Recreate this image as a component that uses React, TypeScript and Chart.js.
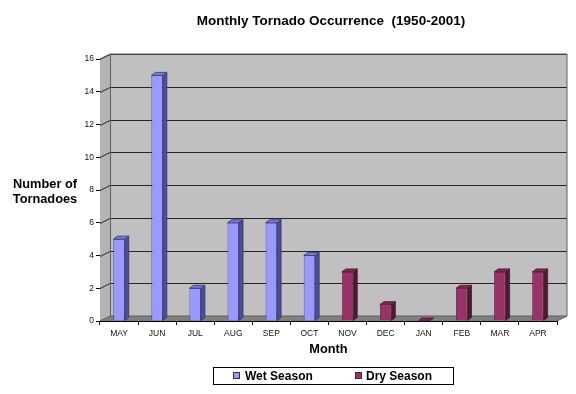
import React, { useEffect, useRef } from "react";
import { Chart, registerables } from "chart.js";

Chart.register(...registerables);

const months = ["MAY", "JUN", "JUL", "AUG", "SEP", "OCT", "NOV", "DEC", "JAN", "FEB", "MAR", "APR"];
const wetSeason = [5, 15, 2, 6, 6, 4, null, null, null, null, null, null];
const drySeason = [null, null, null, null, null, null, 3, 1, 0, 2, 3, 3];
const yTicks = [0, 2, 4, 6, 8, 10, 12, 14, 16];

const FONT = "'Liberation Sans', Arial, Helvetica, sans-serif";
const WALL_DX = 10;
const WALL_DY = -5;
const BAR_DX = 4;
const BAR_DY = -3;

const wetColors = { front: "#9999ff", side: "#4d4d99", top: "#7a7acc", border: "#33337a" };
const dryColors = { front: "#993366", side: "#4d1933", top: "#7a2952", border: "#4d1933" };

const threeD = {
  id: "threeD",
  beforeDatasetsDraw(chart: any) {
    const { ctx, chartArea, scales } = chart;
    const y = scales.y;
    const left = chartArea.left;
    const right = chartArea.right;
    const bottom = y.getPixelForValue(0);
    const top = y.getPixelForValue(16);
    ctx.save();
    ctx.fillStyle = "#c0c0c0";
    ctx.fillRect(left + WALL_DX, top + WALL_DY, right - left, bottom - top);
    ctx.fillStyle = "#b4b4b4";
    ctx.beginPath();
    ctx.moveTo(left, top);
    ctx.lineTo(left + WALL_DX, top + WALL_DY);
    ctx.lineTo(left + WALL_DX, bottom + WALL_DY);
    ctx.lineTo(left, bottom);
    ctx.closePath();
    ctx.fill();
    ctx.fillStyle = "#808080";
    ctx.beginPath();
    ctx.moveTo(left, bottom);
    ctx.lineTo(right, bottom);
    ctx.lineTo(right + WALL_DX, bottom + WALL_DY);
    ctx.lineTo(left + WALL_DX, bottom + WALL_DY);
    ctx.closePath();
    ctx.fill();
    ctx.strokeStyle = "#262626";
    ctx.lineWidth = 1;
    for (const v of yTicks) {
      if (v === 0) continue;
      const py = Math.round(y.getPixelForValue(v)) + 0.5;
      ctx.beginPath();
      ctx.moveTo(left, py);
      ctx.lineTo(left + WALL_DX, py + WALL_DY);
      ctx.lineTo(right + WALL_DX, py + WALL_DY);
      ctx.stroke();
    }
    ctx.strokeStyle = "#606060";
    ctx.beginPath();
    ctx.moveTo(left, top);
    ctx.lineTo(left + WALL_DX, top + WALL_DY);
    ctx.lineTo(right + WALL_DX, top + WALL_DY);
    ctx.lineTo(right + WALL_DX, bottom + WALL_DY);
    ctx.lineTo(right, bottom);
    ctx.moveTo(left + WALL_DX + 0.5, top + WALL_DY);
    ctx.lineTo(left + WALL_DX + 0.5, bottom + WALL_DY);
    ctx.lineTo(right + WALL_DX, bottom + WALL_DY);
    ctx.moveTo(left, bottom);
    ctx.lineTo(left + WALL_DX, bottom + WALL_DY);
    ctx.stroke();
    ctx.restore();
  },
  afterDatasetsDraw(chart: any) {
    const { ctx } = chart;
    ctx.save();
    chart.data.datasets.forEach((ds: any, di: number) => {
      const meta = chart.getDatasetMeta(di);
      const c = di === 0 ? wetColors : dryColors;
      meta.data.forEach((el: any, i: number) => {
        const v = ds.data[i];
        if (v === null || v === undefined) return;
        const { x, y, base, width } = el.getProps(["x", "y", "base", "width"], true);
        const l = x - width / 2;
        const r = x + width / 2;
        ctx.lineWidth = 0.8;
        ctx.strokeStyle = c.border;
        ctx.fillStyle = c.side;
        ctx.beginPath();
        ctx.moveTo(r, y);
        ctx.lineTo(r + BAR_DX, y + BAR_DY);
        ctx.lineTo(r + BAR_DX, base + BAR_DY);
        ctx.lineTo(r, base);
        ctx.closePath();
        ctx.fill();
        ctx.stroke();
        ctx.fillStyle = c.top;
        ctx.beginPath();
        ctx.moveTo(l, y);
        ctx.lineTo(l + BAR_DX, y + BAR_DY);
        ctx.lineTo(r + BAR_DX, y + BAR_DY);
        ctx.lineTo(r, y);
        ctx.closePath();
        ctx.fill();
        ctx.stroke();
      });
    });
    ctx.restore();
  },
  afterDraw(chart: any) {
    const { ctx, chartArea } = chart;
    ctx.save();
    ctx.fillStyle = "#000";
    ctx.textBaseline = "middle";
    ctx.textAlign = "center";
    ctx.font = `bold 13.5px ${FONT}`;
    ctx.fillText("Monthly Tornado Occurrence  (1950-2001)", 331, 21);
    ctx.font = `bold 12.8px ${FONT}`;
    ctx.fillText("Number of", 45, 184);
    ctx.fillText("Tornadoes", 45, 199);
    ctx.fillText("Month", (chartArea.left + chartArea.right) / 2, 349);
    ctx.font = `bold 12px ${FONT}`;
    ctx.strokeStyle = "#000";
    ctx.lineWidth = 1;
    ctx.strokeRect(213.5, 367.5, 240, 17);
    ctx.textAlign = "left";
    ctx.fillStyle = wetColors.front;
    ctx.fillRect(233, 372, 7, 7);
    ctx.strokeStyle = "#333";
    ctx.strokeRect(233.5, 372.5, 6, 6);
    ctx.fillStyle = "#000";
    ctx.fillText("Wet Season", 245, 376.5);
    ctx.fillStyle = dryColors.front;
    ctx.fillRect(355, 372, 7, 7);
    ctx.strokeRect(355.5, 372.5, 6, 6);
    ctx.fillStyle = "#000";
    ctx.fillText("Dry Season", 366, 376.5);
    ctx.restore();
  },
};

export default function App() {
  const ref = useRef<HTMLCanvasElement | null>(null);
  useEffect(() => {
    if (!ref.current) return;
    const chart = new Chart(ref.current, {
      type: "bar",
      data: {
        labels: months,
        datasets: [
          {
            label: "Wet Season",
            data: wetSeason,
            backgroundColor: wetColors.front,
            borderColor: wetColors.border,
            borderWidth: 0.8,
            barPercentage: 0.3,
            categoryPercentage: 1,
            grouped: false,
          } as any,
          {
            label: "Dry Season",
            data: drySeason,
            backgroundColor: dryColors.front,
            borderColor: dryColors.border,
            borderWidth: 0.8,
            barPercentage: 0.3,
            categoryPercentage: 1,
            grouped: false,
          } as any,
        ],
      },
      options: {
        animation: false,
        responsive: false,
        maintainAspectRatio: false,
        layout: { padding: { left: 60, right: 19, top: 59, bottom: 43 } },
        plugins: {
          legend: { display: false },
          title: { display: false },
          tooltip: { enabled: false },
        },
        scales: {
          x: {
            offset: true,
            grid: {
              offset: true,
              drawOnChartArea: false,
              drawTicks: true,
              tickLength: 4,
              color: "#000",
            },
            border: { display: true, color: "#000" },
            ticks: { color: "#111", font: { family: FONT, size: 8.5 }, padding: 4, maxRotation: 0 },
            afterFit: (s: any) => {
              s.height = 30;
            },
          },
          y: {
            min: 0,
            max: 16,
            ticks: { stepSize: 2, color: "#111", font: { family: FONT, size: 8.5 }, padding: 2 },
            grid: { drawOnChartArea: false, tickLength: 4, color: "#000" },
            border: { display: true, color: "#000" },
            afterFit: (s: any) => {
              s.width = 40;
            },
          },
        },
      },
      plugins: [threeD],
    });
    return () => chart.destroy();
  }, []);
  return (
    <div style={{ position: "fixed", left: 0, top: 0, width: 576, height: 394, background: "#fff" }}>
      <canvas ref={ref} width={576} height={394} style={{ width: 576, height: 394, display: "block" }} />
    </div>
  );
}
